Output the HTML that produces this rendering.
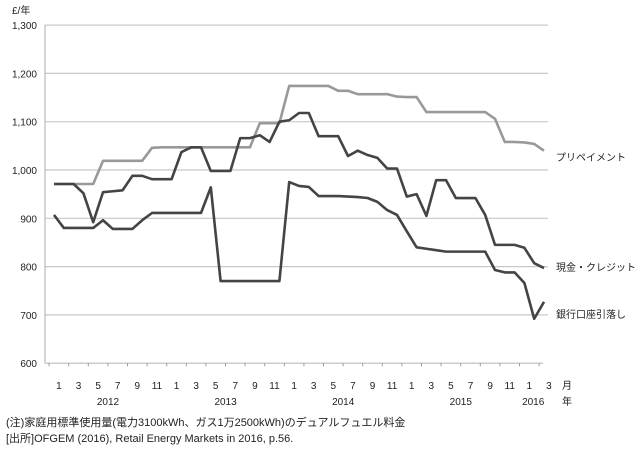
<!DOCTYPE html>
<html><head><meta charset="utf-8">
<style>
body{margin:0;background:#fff;}
svg{display:block;font-family:"Liberation Sans","Noto Sans CJK JP",sans-serif;}
</style></head>
<body>
<svg id="chart" width="640" height="462" viewBox="0 0 640 462">
<g id="grid"></g>
<g id="yaxis"></g>
<g id="xaxis"></g>
<g id="series"></g>
<text x="12" y="14" font-size="10" fill="#222">£/年</text>
<text x="556" y="161" font-size="10" fill="#222">プリペイメント</text>
<text x="556" y="271" font-size="10" fill="#222">現金・クレジット</text>
<text x="556" y="318" font-size="10" fill="#222">銀行口座引落し</text>
<text x="562" y="389" font-size="10" fill="#222">月</text>
<text x="562" y="405" font-size="10" fill="#222">年</text>
<text x="6" y="426" font-size="11" fill="#222">(注)家庭用標準使用量(電力3100kWh、ガス1万2500kWh)のデュアルフュエル料金</text>
<text x="6" y="442" font-size="11" fill="#222">[出所]OFGEM (2016), Retail Energy Markets in 2016, p.56.</text>
</svg>
<script>
const yTicks = [600,700,800,900,1000,1100,1200,1300];
const yTickLabels = ["600","700","800","900","1,000","1,100","1,200","1,300"];
const monthLabels = ["1","3","5","7","9","11"];
const years = ["2012","2013","2014","2015","2016"];
const prepayment = [971,971,971,971,971,1019,1019,1019,1019,1019,1046,1047,1047,1047,1047,1047,1047,1047,1047,1047,1047,1097,1097,1097,1174,1174,1174,1174,1174,1164,1164,1157,1157,1157,1157,1152,1151,1151,1120,1120,1120,1120,1120,1120,1120,1106,1058,1058,1057,1054,1040];
const cashCredit = [971,971,971,952,892,954,956,958,988,988,981,981,981,1037,1047,1047,998,998,998,1066,1066,1072,1058,1100,1103,1118,1118,1070,1070,1070,1029,1040,1031,1025,1003,1003,945,950,905,979,979,942,942,942,907,845,845,845,839,807,797];
const directDebit = [907,880,880,880,880,896,878,878,878,896,911,911,911,911,911,911,964,770,770,770,770,770,770,770,975,967,965,946,946,946,945,944,942,934,917,907,873,840,837,834,831,831,831,831,831,793,788,788,766,692,727];

const NS="http://www.w3.org/2000/svg";
const X0=54, DX=9.8, PL=45, PR=548;
function xs(i){return X0+i*DX;}
function ys(v){return 170-(v-1000)*0.483;}
function mk(tag,attrs,parent,text){const e=document.createElementNS(NS,tag);for(const k in attrs)e.setAttribute(k,attrs[k]);if(text!==undefined)e.textContent=text;parent.appendChild(e);return e;}
const grid=document.getElementById('grid'),yax=document.getElementById('yaxis'),xax=document.getElementById('xaxis'),ser=document.getElementById('series');
yTicks.forEach((v,k)=>{
  if(v>600){const l=mk('line',{x1:PL,x2:PR,y1:ys(v),y2:ys(v),stroke:'#c8c8c8','stroke-width':1.2},grid);
  
  }
  const t=mk('text',{x:37,y:ys(v)+4,'font-size':10,'text-anchor':'end',fill:'#222'},yax,yTickLabels[k]);
  
  
});
mk('line',{x1:PL,x2:PL,y1:ys(1300),y2:ys(600),stroke:'#bbb','stroke-width':1.2},yax);
mk('line',{x1:PL,x2:543,y1:ys(600),y2:ys(600),stroke:'#bbb','stroke-width':1.2},xax);
const n=prepayment.length;
for(let i=0;i<n;i+=2){
  mk('line',{x1:xs(i)-DX/2,x2:xs(i)-DX/2,y1:ys(600),y2:ys(600)+3,stroke:'#999'},xax);
  const t=mk('text',{x:xs(i)+DX/2,y:389,'font-size':10,'text-anchor':'middle',fill:'#222'},xax,monthLabels[(i%12)/2]);
  
  
}
years.forEach((y,k)=>{
  const mid = k<4 ? xs(k*12+5)+5 : xs(49)-1;
  const t=mk('text',{x:mid,y:405,'font-size':10,'text-anchor':'middle',fill:'#222'},xax,y);
  
  
});
function line(arr,color,name){
  const p=mk('polyline',{points:arr.map((v,i)=>xs(i)+','+ys(v)).join(' '),fill:'none',stroke:color,'stroke-width':2.6,'stroke-linejoin':'round'},ser);
  
  
}
line(prepayment,'#999','prepayment-line');
line(cashCredit,'#444','cash-credit-line');
line(directDebit,'#444','direct-debit-line');
</script>
</body></html>
